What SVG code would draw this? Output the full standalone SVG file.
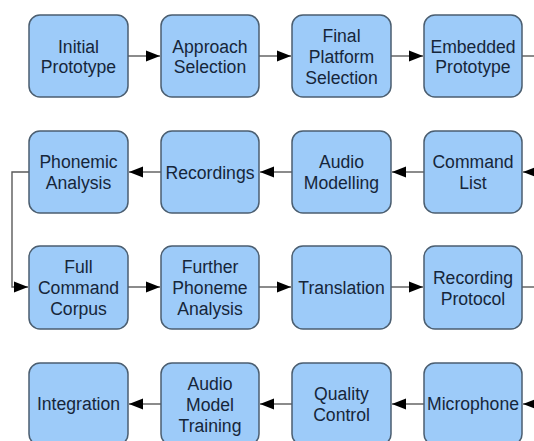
<svg xmlns="http://www.w3.org/2000/svg" width="534" height="441" viewBox="0 0 534 441">
<defs>
<style>
.box{fill:#9dcbf9;stroke:#4b5e70;stroke-width:1.5}
.lbl{font-family:"Liberation Sans",Arial,sans-serif;font-size:17.6px;fill:#16263a;text-anchor:middle}
.con{fill:none;stroke:#5a5a5a;stroke-width:1.4}
</style>
<marker id="ah" markerUnits="userSpaceOnUse" markerWidth="15" markerHeight="12" refX="14" refY="6" orient="auto">
<path d="M0,0.5 L14,6 L0,11.5 Z" fill="#000"/>
</marker>
</defs>
<rect width="534" height="441" fill="#fff"/>
<g id="connectors">
<line class="con" x1="128" y1="56" x2="160" y2="56" marker-end="url(#ah)"/>
<line class="con" x1="259" y1="56" x2="291" y2="56" marker-end="url(#ah)"/>
<line class="con" x1="391" y1="56" x2="423" y2="56" marker-end="url(#ah)"/>
<line class="con" x1="522" y1="56" x2="534" y2="56"/>
<line class="con" x1="537" y1="172" x2="523" y2="172" marker-end="url(#ah)"/>
<line class="con" x1="424" y1="172" x2="392" y2="172" marker-end="url(#ah)"/>
<line class="con" x1="292" y1="172" x2="260" y2="172" marker-end="url(#ah)"/>
<line class="con" x1="161" y1="172" x2="129" y2="172" marker-end="url(#ah)"/>
<polyline class="con" points="29,172 12,172 12,287 28,287" marker-end="url(#ah)"/>
<line class="con" x1="128" y1="287" x2="160" y2="287" marker-end="url(#ah)"/>
<line class="con" x1="259" y1="287" x2="291" y2="287" marker-end="url(#ah)"/>
<line class="con" x1="391" y1="287" x2="423" y2="287" marker-end="url(#ah)"/>
<line class="con" x1="522" y1="287" x2="534" y2="287"/>
<line class="con" x1="537" y1="404" x2="523" y2="404" marker-end="url(#ah)"/>
<line class="con" x1="424" y1="404" x2="392" y2="404" marker-end="url(#ah)"/>
<line class="con" x1="292" y1="404" x2="260" y2="404" marker-end="url(#ah)"/>
<line class="con" x1="161" y1="404" x2="129" y2="404" marker-end="url(#ah)"/>
</g>
<g id="initial-prototype"><rect class="box" x="29" y="15" width="99" height="82" rx="11"/><text class="lbl"><tspan x="78.5" y="53">Initial</tspan><tspan x="78.5" y="73">Prototype</tspan></text></g>
<g id="approach-selection"><rect class="box" x="161" y="15" width="98" height="82" rx="11"/><text class="lbl"><tspan x="210" y="53">Approach</tspan><tspan x="210" y="73">Selection</tspan></text></g>
<g id="final-platform-selection"><rect class="box" x="292" y="15" width="99" height="82" rx="11"/><text class="lbl"><tspan x="341.5" y="42">Final</tspan><tspan x="341.5" y="63">Platform</tspan><tspan x="341.5" y="84">Selection</tspan></text></g>
<g id="embedded-prototype"><rect class="box" x="424" y="15" width="98" height="82" rx="11"/><text class="lbl"><tspan x="473" y="53">Embedded</tspan><tspan x="473" y="73">Prototype</tspan></text></g>
<g id="phonemic-analysis"><rect class="box" x="29" y="131" width="99" height="82" rx="11"/><text class="lbl"><tspan x="78.5" y="168">Phonemic</tspan><tspan x="78.5" y="189">Analysis</tspan></text></g>
<g id="recordings"><rect class="box" x="161" y="131" width="98" height="82" rx="11"/><text class="lbl" x="210" y="179">Recordings</text></g>
<g id="audio-modelling"><rect class="box" x="292" y="131" width="99" height="82" rx="11"/><text class="lbl"><tspan x="341.5" y="168">Audio</tspan><tspan x="341.5" y="189">Modelling</tspan></text></g>
<g id="command-list"><rect class="box" x="424" y="131" width="98" height="82" rx="11"/><text class="lbl"><tspan x="473" y="168">Command</tspan><tspan x="473" y="189">List</tspan></text></g>
<g id="full-command-corpus"><rect class="box" x="29" y="246" width="99" height="83" rx="11"/><text class="lbl"><tspan x="78.5" y="273">Full</tspan><tspan x="78.5" y="294">Command</tspan><tspan x="78.5" y="315">Corpus</tspan></text></g>
<g id="further-phoneme-analysis"><rect class="box" x="161" y="246" width="98" height="83" rx="11"/><text class="lbl"><tspan x="210" y="273">Further</tspan><tspan x="210" y="294">Phoneme</tspan><tspan x="210" y="315">Analysis</tspan></text></g>
<g id="translation"><rect class="box" x="292" y="246" width="99" height="83" rx="11"/><text class="lbl" x="341.5" y="294">Translation</text></g>
<g id="recording-protocol"><rect class="box" x="424" y="246" width="98" height="83" rx="11"/><text class="lbl"><tspan x="473" y="284">Recording</tspan><tspan x="473" y="305">Protocol</tspan></text></g>
<g id="integration"><rect class="box" x="29" y="363" width="99" height="82" rx="11"/><text class="lbl" x="78.5" y="410">Integration</text></g>
<g id="audio-model-training"><rect class="box" x="161" y="363" width="98" height="82" rx="11"/><text class="lbl"><tspan x="210" y="390">Audio</tspan><tspan x="210" y="411">Model</tspan><tspan x="210" y="432">Training</tspan></text></g>
<g id="quality-control"><rect class="box" x="292" y="363" width="99" height="82" rx="11"/><text class="lbl"><tspan x="341.5" y="400">Quality</tspan><tspan x="341.5" y="421">Control</tspan></text></g>
<g id="microphone"><rect class="box" x="424" y="363" width="98" height="82" rx="11"/><text class="lbl" x="473" y="410">Microphone</text></g>
</svg>
